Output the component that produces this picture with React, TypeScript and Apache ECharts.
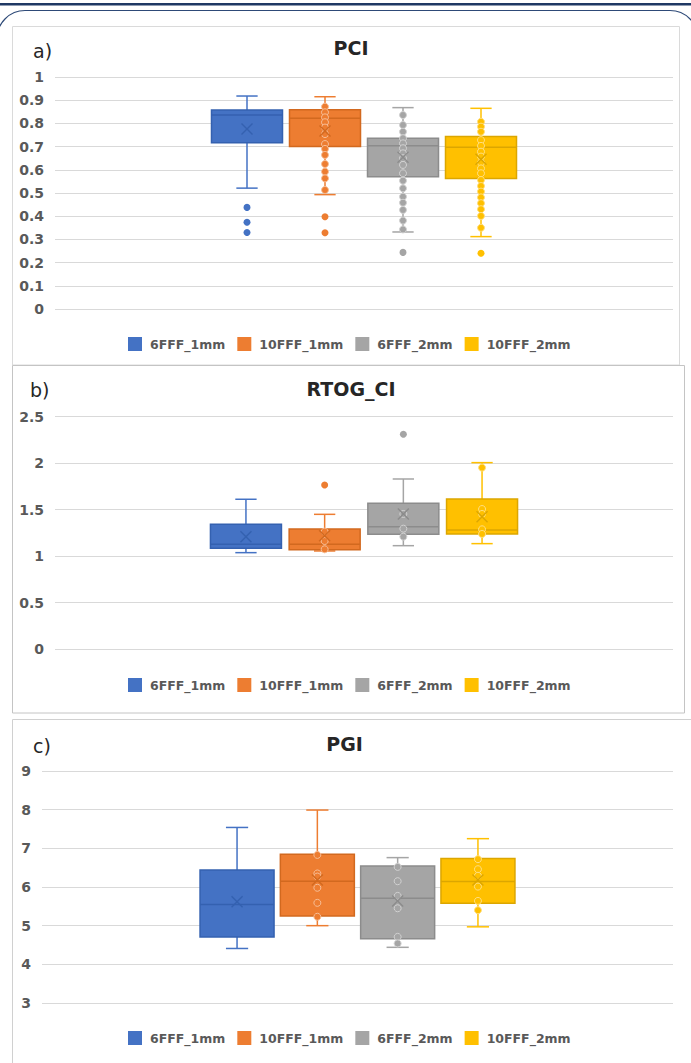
import React, { useEffect, useRef } from "react";
import * as echarts from "echarts";

const groups = ["6FFF_1mm", "10FFF_1mm", "6FFF_2mm", "10FFF_2mm"];
const fillColors = ["#4472C4", "#ED7D31", "#A5A5A5", "#FFC000"];
const edgeColors = ["#3461b0", "#d2691f", "#8c8c8c", "#dca600"];
const pointEdgeColors = ["#a9bfe6", "#f7be97", "#d2d2d2", "#ffdf80"];

const panelTitles = ["PCI", "RTOG_CI", "PGI"];
const panelLabels = ["a)", "b)", "c)"];
const yMins = [0, 0, 3];
const yMaxs = [1, 2.5, 9];
const ySteps = [0.1, 0.5, 1];

// [lower whisker, Q1, median, Q3, upper whisker] per group
const pciBoxes = [
  [0.521, 0.717, 0.836, 0.858, 0.918],
  [0.493, 0.7, 0.822, 0.859, 0.915],
  [0.332, 0.57, 0.704, 0.736, 0.868],
  [0.312, 0.563, 0.697, 0.743, 0.865],
];
const pciMeans = [0.776, 0.767, 0.654, 0.645];
const pciInner = [
  [],
  [0.872, 0.848, 0.826, 0.805, 0.782, 0.754, 0.711, 0.69, 0.664, 0.625, 0.592, 0.563, 0.513],
  [0.836, 0.793, 0.764, 0.736, 0.714, 0.693, 0.671, 0.65, 0.621, 0.585, 0.553, 0.52, 0.484, 0.458, 0.427, 0.381, 0.343],
  [0.807, 0.786, 0.764, 0.728, 0.703, 0.678, 0.657, 0.631, 0.606, 0.585, 0.556, 0.53, 0.506, 0.481, 0.456, 0.43, 0.401, 0.35],
];
const pciOutliers = [[0.438, 0.374, 0.33], [0.398, 0.329], [0.244], [0.24]];

const rtogBoxes = [
  [1.036, 1.083, 1.126, 1.341, 1.61],
  [1.054, 1.068, 1.126, 1.29, 1.448],
  [1.111, 1.233, 1.315, 1.566, 1.828],
  [1.133, 1.237, 1.28, 1.613, 2.004],
];
const rtogMeans = [1.208, 1.219, 1.452, 1.423];
const rtogInner = [[], [1.262, 1.161, 1.072], [1.452, 1.294, 1.208], [1.95, 1.505, 1.452, 1.287, 1.237]];
const rtogOutliers = [[], [1.763], [2.309], []];

const pgiBoxes = [
  [4.41, 4.71, 5.55, 6.44, 7.54],
  [5.0, 5.25, 6.15, 6.85, 7.99],
  [4.44, 4.66, 5.71, 6.54, 6.76],
  [4.97, 5.58, 6.14, 6.74, 7.25],
];
const pgiMeans = [5.62, 6.18, 5.64, 6.18];
const pgiInner = [[], [6.83, 6.35, 6.27, 5.98, 5.59, 5.23], [6.52, 6.15, 5.77, 5.45, 4.71, 4.54], [6.72, 6.46, 6.29, 6.01, 5.64, 5.4]];
const pgiOutliers = [[], [], [], []];

const boxesAll = [pciBoxes, rtogBoxes, pgiBoxes];
const meansAll = [pciMeans, rtogMeans, pgiMeans];
const innerAll = [pciInner, rtogInner, pgiInner];
const outliersAll = [pciOutliers, rtogOutliers, pgiOutliers];

// layout (pixels)
const grids = [
  { left: 55, top: 77, width: 618, height: 232 },
  { left: 55, top: 416.5, width: 618, height: 232.5 },
  { left: 42, top: 771, width: 631, height: 232 },
];
const spacings = [78, 78.7, 80.3];
const boxWidths = [71, 71, 74];
const legendTops = [337, 678, 1031];
const titleYs = [48, 389, 744];
const labelYs = [51, 390, 746];
const labelXs = [33, 30, 33];

const FONT = "DejaVu Sans";

function makeRender(p: number, g: number) {
  return (params: any, api: any) => {
    const cat = api.value(0);
    const offset = (g - 1.5) * spacings[p];
    const cx = api.coord([cat, api.value(1)])[0] + offset;
    const Y = (v: number) => api.coord([cat, v])[1];
    const hw = boxWidths[p] / 2;
    const cap = boxWidths[p] * 0.15;
    const yMinW = Y(api.value(1));
    const yQ1 = Y(api.value(2));
    const yMed = Y(api.value(3));
    const yQ3 = Y(api.value(4));
    const yMaxW = Y(api.value(5));
    const yMean = Y(api.value(6));
    const wStyle = { stroke: fillColors[g], lineWidth: 1.5 };
    const children: any[] = [
      { type: "line", shape: { x1: cx, y1: yMaxW, x2: cx, y2: yQ3 }, style: wStyle },
      { type: "line", shape: { x1: cx, y1: yQ1, x2: cx, y2: yMinW }, style: wStyle },
      { type: "line", shape: { x1: cx - cap, y1: yMaxW, x2: cx + cap, y2: yMaxW }, style: wStyle },
      { type: "line", shape: { x1: cx - cap, y1: yMinW, x2: cx + cap, y2: yMinW }, style: wStyle },
      {
        type: "rect",
        shape: { x: cx - hw, y: yQ3, width: hw * 2, height: yQ1 - yQ3 },
        style: { fill: fillColors[g], stroke: edgeColors[g], lineWidth: 1.5 },
      },
      {
        type: "line",
        shape: { x1: cx - hw, y1: yMed, x2: cx + hw, y2: yMed },
        style: { stroke: edgeColors[g], lineWidth: 1.5 },
      },
    ];
    innerAll[p][g].forEach((v: number) => {
      children.push({
        type: "circle",
        shape: { cx, cy: Y(v), r: 3.5 },
        style: { fill: fillColors[g], stroke: pointEdgeColors[g], lineWidth: 1 },
      });
    });
    const m = 5.5;
    children.push(
      { type: "line", shape: { x1: cx - m, y1: yMean - m, x2: cx + m, y2: yMean + m }, style: { stroke: edgeColors[g], lineWidth: 1.4 } },
      { type: "line", shape: { x1: cx - m, y1: yMean + m, x2: cx + m, y2: yMean - m }, style: { stroke: edgeColors[g], lineWidth: 1.4 } }
    );
    outliersAll[p][g].forEach((v: number) => {
      children.push({
        type: "circle",
        shape: { cx, cy: Y(v), r: 3.5 },
        style: { fill: fillColors[g] },
      });
    });
    return { type: "group", children };
  };
}

export default function App() {
  const ref = useRef<HTMLDivElement>(null);
  useEffect(() => {
    if (!ref.current) return;
    const chart = echarts.init(ref.current, null, { renderer: "svg" });
    const series: any[] = [];
    [0, 1, 2].forEach((p) => {
      groups.forEach((name, g) => {
        const b = boxesAll[p][g];
        series.push({
          type: "custom",
          name,
          xAxisIndex: p,
          yAxisIndex: p,
          itemStyle: { color: fillColors[g] },
          encode: { x: 0, y: [1, 2, 3, 4, 5, 6] },
          data: [[0, b[0], b[1], b[2], b[3], b[4], meansAll[p][g]]],
          renderItem: makeRender(p, g),
          silent: true,
        });
      });
    });
    const graphic: any[] = [
      { type: "rect", shape: { x: 0, y: 3, width: 691, height: 2.5 }, style: { fill: "#1f3864" }, z: 0 },
      {
        type: "rect",
        shape: { x: -3, y: 10.5, width: 701, height: 1100, r: 28 },
        style: { fill: "none", stroke: "#2e4a78", lineWidth: 1.2 },
        z: 0,
      },
      { type: "rect", shape: { x: 12.5, y: 26.5, width: 667, height: 338.5 }, style: { fill: "none", stroke: "#dadada", lineWidth: 1 }, z: 0 },
      { type: "rect", shape: { x: 12.5, y: 365.5, width: 672, height: 347.5 }, style: { fill: "none", stroke: "#c4c4c4", lineWidth: 1 }, z: 0 },
      { type: "rect", shape: { x: 12.5, y: 719.5, width: 700, height: 400 }, style: { fill: "none", stroke: "#d0d0d0", lineWidth: 1 }, z: 0 },
    ];
    [0, 1, 2].forEach((p) => {
      graphic.push({
        type: "text",
        x: grids[p].left + grids[p].width / 2 - 13,
        y: titleYs[p],
        style: {
          text: panelTitles[p],
          font: `bold 19px "${FONT}"`,
          fill: "#262626",
          textAlign: "center",
          textVerticalAlign: "middle",
        },
      });
      graphic.push({
        type: "text",
        x: labelXs[p],
        y: labelYs[p],
        style: {
          text: panelLabels[p],
          font: `19px "${FONT}"`,
          fill: "#262626",
          textAlign: "left",
          textVerticalAlign: "middle",
        },
      });
    });
    chart.setOption({
      animation: false,
      backgroundColor: "#ffffff",
      grid: grids.map((g) => ({ ...g, containLabel: false })),
      xAxis: [0, 1, 2].map((p) => ({
        type: "category",
        gridIndex: p,
        data: [panelTitles[p]],
        show: false,
      })),
      yAxis: [0, 1, 2].map((p) => ({
        type: "value",
        gridIndex: p,
        min: yMins[p],
        max: yMaxs[p],
        interval: ySteps[p],
        axisLine: { show: false },
        axisTick: { show: false },
        splitLine: { lineStyle: { color: "#d9d9d9", width: 1 } },
        axisLabel: {
          margin: 11,
          fontFamily: FONT,
          fontWeight: "bold",
          fontSize: 14,
          color: "#595959",
        },
      })),
      legend: [0, 1, 2].map((p) => ({
        data: groups,
        left: 128,
        top: legendTops[p],
        padding: 0,
        orient: "horizontal",
        icon: "rect",
        itemWidth: 14,
        itemHeight: 14,
        itemGap: 12,
        selectedMode: false,
        textStyle: {
          fontFamily: FONT,
          fontWeight: "bold",
          fontSize: 12.5,
          color: "#595959",
          padding: [0, 0, 0, 3],
        },
      })),
      graphic,
      series,
    });
    return () => chart.dispose();
  }, []);
  return (
    <div
      ref={ref}
      style={{ position: "absolute", left: 0, top: 0, width: 691, height: 1063 }}
    />
  );
}
